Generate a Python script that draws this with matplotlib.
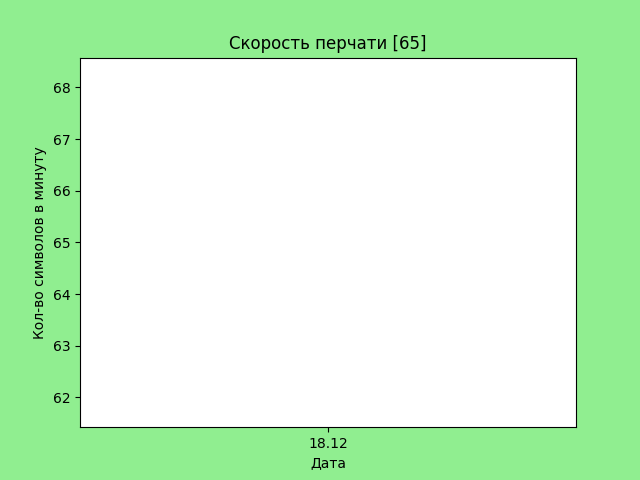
import matplotlib
matplotlib.use('Agg')
import matplotlib.pyplot as plt

# --- Данные ---
dates = ['18.12']
speeds = [65]

fig = plt.figure(figsize=(6.4, 4.8), dpi=100, facecolor='lightgreen')
ax = fig.add_subplot(111)
ax.plot(dates, speeds)
ax.set_title(f'Скорость перчати [{speeds[-1]}]')
ax.set_xlabel('Дата')
ax.set_ylabel('Кол-во символов в минуту')
fig.savefig('out.png', facecolor=fig.get_facecolor())
